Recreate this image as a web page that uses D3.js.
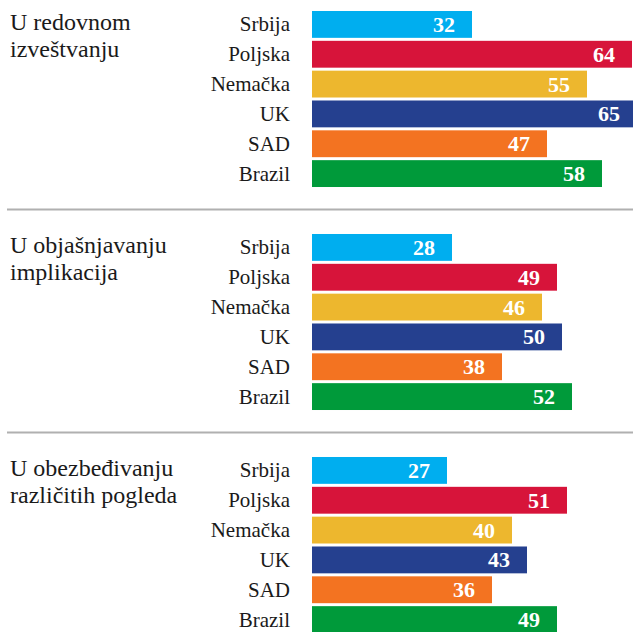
<!DOCTYPE html>
<html>
<head>
<meta charset="utf-8">
<script src="https://cdn.jsdelivr.net/npm/d3@7"></script>
<style>
  html, body { margin: 0; padding: 0; background: #fff; }
  svg { display: block; }
  .serif { font-family: "Liberation Serif", "DejaVu Serif", serif; }
</style>
</head>
<body>
<svg id="chart" width="633" height="632"></svg>
<script>
// Countries shown in every panel, top to bottom
const countries = ["Srbija", "Poljska", "Nemačka", "UK", "SAD", "Brazil"];
// Panel titles (two lines each)
const panelTitles = [
  ["U redovnom", "izveštvanju"],
  ["U objašnjavanju", "implikacija"],
  ["U obezbeđivanju", "različitih pogleda"]
];
// Values per panel, in country order
const valuesRedovno = [32, 64, 55, 65, 47, 58];
const valuesImplikacije = [28, 49, 46, 50, 38, 52];
const valuesPogledi = [27, 51, 40, 43, 36, 49];
const panelValues = [valuesRedovno, valuesImplikacije, valuesPogledi];
// Bar colour per country
const countryColors = ["#00aeef", "#d7143a", "#edb72e", "#25408f", "#f37321", "#009a3a"];

const svg = d3.select("#chart");

const panelTop = 9.5, panelStep = 223, panelHeight = 179;

const x = d3.scaleLinear().domain([0, 65]).range([312, 637]);
const color = d3.scaleOrdinal().domain(countries).range(countryColors);

panelValues.forEach((vals, p) => {
  const top = panelTop + p * panelStep;
  const y = d3.scaleBand()
    .domain(countries)
    .range([top, top + panelHeight])
    .paddingInner(0.1)
    .paddingOuter(0.05);

  const g = svg.append("g");

  // panel title
  g.append("text")
    .attr("class", "serif")
    .attr("x", 10)
    .attr("y", top + 20)
    .attr("font-size", 24)
    .attr("fill", "#1a1a1a")
    .selectAll("tspan")
    .data(panelTitles[p])
    .join("tspan")
    .attr("x", 10)
    .attr("dy", (d, i) => i === 0 ? 0 : 27)
    .text(d => d);

  const rows = g.selectAll("g.row")
    .data(countries.map((c, i) => ({ country: c, value: vals[i] })))
    .join("g")
    .attr("class", "row");

  rows.append("rect")
    .attr("x", x(0))
    .attr("y", d => y(d.country))
    .attr("width", d => x(d.value) - x(0))
    .attr("height", y.bandwidth())
    .attr("fill", d => color(d.country));

  // country label
  rows.append("text")
    .attr("class", "serif")
    .attr("x", 290)
    .attr("y", d => y(d.country) + y.bandwidth() / 2 + 7)
    .attr("text-anchor", "end")
    .attr("font-size", 21)
    .attr("fill", "#1a1a1a")
    .text(d => d.country);

  // value label inside the bar end
  rows.append("text")
    .attr("class", "serif")
    .attr("x", d => x(d.value) - 17)
    .attr("y", d => y(d.country) + y.bandwidth() / 2 + 7.5)
    .attr("text-anchor", "end")
    .attr("font-weight", "bold")
    .attr("font-size", 22)
    .attr("fill", "#fff")
    .text(d => d.value);

  // separator below panel
  if (p < panelValues.length - 1) {
    const sy = top + panelStep - 23;
    svg.append("line")
      .attr("x1", 7).attr("x2", 633)
      .attr("y1", sy).attr("y2", sy)
      .attr("stroke", "#b0b0b0")
      .attr("stroke-width", 2);
  }
});
</script>
</body>
</html>
